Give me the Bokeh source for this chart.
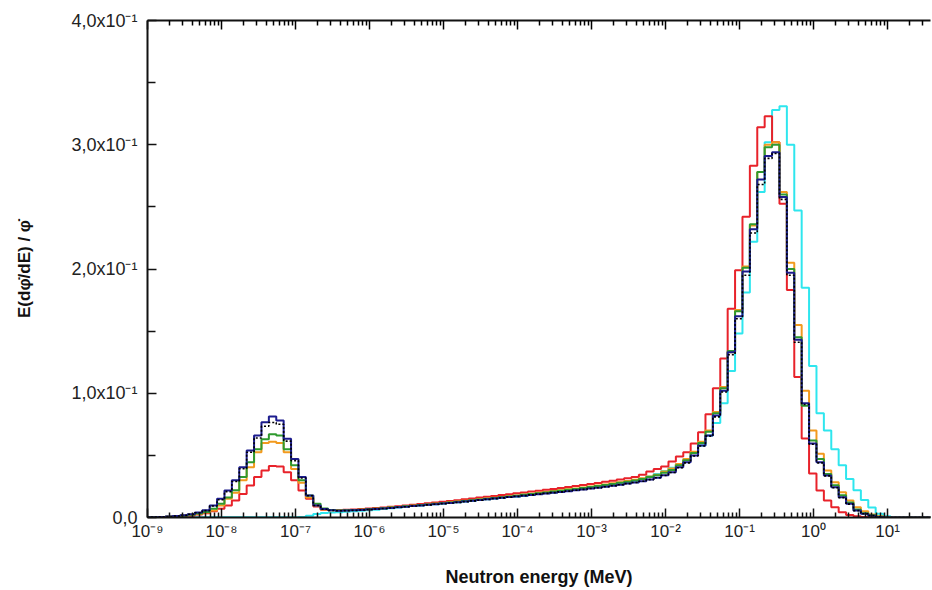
import numpy as np
from bokeh.plotting import figure
from bokeh.models import LogAxis, FixedTicker, Range1d, CustomJSTickFormatter
from bokeh.embed import file_html
from bokeh.resources import INLINE

# 10 logarithmic bins per decade (edge exponents)
bin_edges = 10.0 ** (np.arange(-91, 17) / 10 + 0.04)

navy = [
    0.0002, 0.0003, 0.0005, 0.0008, 0.0012, 0.0018, 0.0027, 0.0040, 0.0058, 0.0097,
    0.0150, 0.0217, 0.0300, 0.0405, 0.0540, 0.0660, 0.0767, 0.0813, 0.0780, 0.0633,
    0.0470, 0.0325, 0.0177, 0.0097, 0.0068, 0.0058, 0.0055, 0.0056, 0.0058, 0.0061,
    0.0064, 0.0068, 0.0072, 0.0077, 0.0082, 0.0087, 0.0092, 0.0097, 0.0102, 0.0107,
    0.0112, 0.0117, 0.0122, 0.0128, 0.0134, 0.0140, 0.0146, 0.0152, 0.0158, 0.0164,
    0.0170, 0.0176, 0.0182, 0.0188, 0.0194, 0.0200, 0.0206, 0.0212, 0.0219, 0.0226,
    0.0233, 0.0240, 0.0248, 0.0256, 0.0264, 0.0273, 0.0282, 0.0292, 0.0305, 0.0320,
    0.0340, 0.0365, 0.0405, 0.0445, 0.0500, 0.0580, 0.0660, 0.0820, 0.1020, 0.1330,
    0.1620, 0.1980, 0.2320, 0.2720, 0.2910, 0.2940, 0.2580, 0.1970, 0.1430, 0.0920,
    0.0595, 0.0445, 0.0338, 0.0244, 0.0163, 0.0110, 0.0056, 0.0030, 0.0015, 0.0005,
    0, 0, 0, 0, 0, 0, 0]

black = [
    0.0002, 0.0003, 0.0005, 0.0008, 0.0011, 0.0017, 0.0026, 0.0038, 0.0055, 0.0092,
    0.0143, 0.0208, 0.0290, 0.0392, 0.0525, 0.0640, 0.0735, 0.0765, 0.0750, 0.0615,
    0.0458, 0.0318, 0.0175, 0.0096, 0.0067, 0.0057, 0.0054, 0.0055, 0.0057, 0.0060,
    0.0064, 0.0068, 0.0072, 0.0077, 0.0082, 0.0087, 0.0092, 0.0097, 0.0102, 0.0107,
    0.0112, 0.0117, 0.0122, 0.0128, 0.0134, 0.0140, 0.0146, 0.0152, 0.0158, 0.0164,
    0.0170, 0.0176, 0.0182, 0.0188, 0.0194, 0.0200, 0.0206, 0.0212, 0.0219, 0.0226,
    0.0233, 0.0240, 0.0248, 0.0256, 0.0264, 0.0273, 0.0282, 0.0292, 0.0305, 0.0320,
    0.0338, 0.0362, 0.0400, 0.0440, 0.0495, 0.0575, 0.0655, 0.0810, 0.1010, 0.1310,
    0.1600, 0.1950, 0.2290, 0.2680, 0.2890, 0.2930, 0.2560, 0.1950, 0.1410, 0.0910,
    0.0590, 0.0440, 0.0335, 0.0240, 0.0160, 0.0108, 0.0055, 0.0030, 0.0015, 0.0005,
    0, 0, 0, 0, 0, 0, 0]

green = [
    0.0002, 0.0003, 0.0004, 0.0007, 0.0010, 0.0015, 0.0022, 0.0032, 0.0045, 0.0070,
    0.0110, 0.0160, 0.0220, 0.0325, 0.0445, 0.0550, 0.0630, 0.0670, 0.0660, 0.0550,
    0.0420, 0.0300, 0.0177, 0.0110, 0.0072, 0.0060, 0.0057, 0.0058, 0.0060, 0.0063,
    0.0066, 0.0070, 0.0075, 0.0080, 0.0085, 0.0090, 0.0095, 0.0100, 0.0105, 0.0110,
    0.0115, 0.0121, 0.0127, 0.0133, 0.0139, 0.0145, 0.0151, 0.0157, 0.0163, 0.0170,
    0.0176, 0.0183, 0.0189, 0.0196, 0.0202, 0.0209, 0.0216, 0.0223, 0.0230, 0.0237,
    0.0245, 0.0253, 0.0261, 0.0270, 0.0279, 0.0288, 0.0298, 0.0310, 0.0325, 0.0340,
    0.0360, 0.0382, 0.0420, 0.0460, 0.0520, 0.0600, 0.0690, 0.0840, 0.1040, 0.1340,
    0.1660, 0.2010, 0.2360, 0.2780, 0.2980, 0.3000, 0.2600, 0.2000, 0.1450, 0.0900,
    0.0620, 0.0470, 0.0350, 0.0260, 0.0180, 0.0120, 0.0065, 0.0035, 0.0018, 0.0007,
    0, 0, 0, 0, 0, 0, 0]

orange = [
    0.0001, 0.0002, 0.0004, 0.0006, 0.0009, 0.0014, 0.0020, 0.0029, 0.0040, 0.0056,
    0.0097, 0.0150, 0.0200, 0.0300, 0.0405, 0.0526, 0.0600, 0.0610, 0.0600, 0.0526,
    0.0390, 0.0280, 0.0160, 0.0097, 0.0064, 0.0058, 0.0057, 0.0058, 0.0060, 0.0063,
    0.0066, 0.0070, 0.0075, 0.0080, 0.0085, 0.0090, 0.0095, 0.0100, 0.0105, 0.0110,
    0.0116, 0.0122, 0.0128, 0.0134, 0.0140, 0.0146, 0.0152, 0.0158, 0.0165, 0.0172,
    0.0178, 0.0185, 0.0192, 0.0199, 0.0206, 0.0213, 0.0220, 0.0227, 0.0234, 0.0242,
    0.0250, 0.0258, 0.0266, 0.0275, 0.0284, 0.0293, 0.0303, 0.0315, 0.0330, 0.0345,
    0.0370, 0.0395, 0.0430, 0.0470, 0.0530, 0.0610, 0.0700, 0.0850, 0.1050, 0.1330,
    0.1670, 0.2020, 0.2350, 0.2780, 0.3000, 0.3020, 0.2620, 0.2050, 0.1550, 0.1020,
    0.0700, 0.0513, 0.0378, 0.0284, 0.0204, 0.0137, 0.0083, 0.0050, 0.0025, 0.0010,
    0.0003, 0, 0, 0, 0, 0, 0]

red = [
    0.0001, 0.0002, 0.0003, 0.0005, 0.0007, 0.0010, 0.0015, 0.0025, 0.0035, 0.0050,
    0.0070, 0.0097, 0.0137, 0.0190, 0.0258, 0.0325, 0.0378, 0.0415, 0.0410, 0.0365,
    0.0300, 0.0217, 0.0150, 0.0088, 0.0062, 0.0060, 0.0060, 0.0062, 0.0065, 0.0068,
    0.0072, 0.0076, 0.0081, 0.0086, 0.0091, 0.0096, 0.0102, 0.0108, 0.0114, 0.0120,
    0.0126, 0.0132, 0.0139, 0.0146, 0.0153, 0.0160, 0.0167, 0.0174, 0.0181, 0.0188,
    0.0195, 0.0202, 0.0209, 0.0216, 0.0223, 0.0230, 0.0238, 0.0246, 0.0254, 0.0262,
    0.0270, 0.0278, 0.0287, 0.0296, 0.0305, 0.0315, 0.0325, 0.0345, 0.0370, 0.0390,
    0.0410, 0.0450, 0.0490, 0.0526, 0.0595, 0.0687, 0.0830, 0.1040, 0.1280, 0.1680,
    0.1990, 0.2420, 0.2830, 0.3140, 0.3230, 0.3020, 0.2525, 0.1830, 0.1130, 0.0636,
    0.0354, 0.0217, 0.0137, 0.0083, 0.0043, 0.0020, 0.0010, 0.0004, 0, 0,
    0, 0, 0, 0, 0, 0, 0]

cyan = [
    0.0002, 0.0002, 0.0002, 0.0002, 0.0002, 0.0002, 0.0002, 0.0002, 0.0002, 0.0002,
    0.0002, 0.0002, 0.0002, 0.0002, 0.0002, 0.0002, 0.0002, 0.0002, 0.0002, 0.0002,
    0.0003, 0.0005, 0.0015, 0.0028, 0.0036, 0.0040, 0.0043, 0.0046, 0.0050, 0.0054,
    0.0058, 0.0063, 0.0068, 0.0074, 0.0080, 0.0086, 0.0092, 0.0097, 0.0102, 0.0107,
    0.0112, 0.0117, 0.0122, 0.0128, 0.0134, 0.0140, 0.0146, 0.0152, 0.0158, 0.0164,
    0.0170, 0.0176, 0.0183, 0.0190, 0.0197, 0.0204, 0.0211, 0.0218, 0.0225, 0.0233,
    0.0241, 0.0249, 0.0258, 0.0267, 0.0277, 0.0287, 0.0298, 0.0312, 0.0330, 0.0350,
    0.0375, 0.0400, 0.0430, 0.0470, 0.0520, 0.0580, 0.0660, 0.0760, 0.0920, 0.1180,
    0.1480, 0.1810, 0.2220, 0.2620, 0.3020, 0.3280, 0.3310, 0.3000, 0.2470, 0.1850,
    0.1220, 0.0840, 0.0700, 0.0550, 0.0420, 0.0310, 0.0220, 0.0140, 0.0080, 0.0030,
    0.0010, 0, 0, 0, 0, 0, 0]

x_major = [float(f"1e{k}") for k in range(-9, 2)]
x_minor = [m * float(f"1e{k}") for k in range(-10, 2) for m in range(2, 10)]
y_major = [0.0, 0.1, 0.2, 0.3, 0.4]
y_minor = [0.05, 0.15, 0.25, 0.35]

FONT = "Liberation Sans"

p = figure(width=931, height=589, x_axis_type="log",
           x_range=Range1d(1e-9, 38.1), y_range=Range1d(0, 0.4),
           output_backend="svg", toolbar_location=None,
           min_border_left=147, min_border_right=1,
           min_border_top=20, min_border_bottom=72)
p.background_fill_color = "white"
p.border_fill_color = "white"
p.outline_line_color = None
p.xgrid.visible = False
p.ygrid.visible = False

series = [
    (cyan, "#2ee6ee", 2.0, "solid"),
    (red, "#e8222a", 2.0, "solid"),
    (orange, "#f29a1e", 2.0, "solid"),
    (green, "#2f9a2f", 2.0, "solid"),
    (navy, "#1c1c8e", 2.0, "solid"),
    (black, "#000000", 1.6, "2 2"),
]
for vals, col, lw, dash in series:
    ys = list(vals) + [vals[-1]]
    p.step(list(bin_edges), ys, mode="after", line_color=col, line_width=lw,
           line_dash=dash)

x_fmt = CustomJSTickFormatter(code="""
const e = Math.round(Math.log10(tick));
const sup = {"-":"\u207b","0":"\u2070","1":"\u00b9","2":"\u00b2","3":"\u00b3","4":"\u2074","5":"\u2075","6":"\u2076","7":"\u2077","8":"\u2078","9":"\u2079"};
return "10" + String(e).split("").map(c => sup[c]).join("");
""")
y_fmt = CustomJSTickFormatter(code="""
if (Math.abs(tick) < 1e-9) { return "0,0"; }
return (tick * 10).toFixed(1).replace(".", ",") + "x10\u207b\u00b9";
""")

xa = p.xaxis[0]
xa.ticker = FixedTicker(ticks=x_major, minor_ticks=x_minor)
xa.formatter = x_fmt
xa.axis_label = "Neutron energy (MeV)"
ya = p.yaxis[0]
ya.ticker = FixedTicker(ticks=y_major, minor_ticks=y_minor)
ya.formatter = y_fmt
ya.axis_label = "E(d\u03c6\u0307/dE) / \u03c6\u0307"

for ax in (xa, ya):
    ax.axis_line_width = 2
    ax.axis_line_color = "#111111"
    ax.major_tick_line_color = "#111111"
    ax.minor_tick_line_color = "#111111"
    ax.major_tick_line_width = 1.5
    ax.minor_tick_line_width = 1.5
    ax.major_tick_out = 0
    ax.minor_tick_out = 0
    ax.major_label_text_font = FONT
    ax.major_label_text_color = "#222222"
    ax.axis_label_text_font = FONT
    ax.axis_label_text_font_style = "bold"
    ax.axis_label_text_color = "#111111"

xa.major_tick_in = 9
xa.minor_tick_in = 5
xa.major_label_text_font_size = "17px"
xa.major_label_standoff = 4
xa.axis_label_text_font_size = "18px"
xa.axis_label_standoff = 23

ya.major_tick_in = 9
ya.minor_tick_in = 8
ya.major_label_text_font_size = "18px"
ya.major_label_standoff = 10
ya.axis_label_text_font_size = "17px"
ya.axis_label_standoff = 34

top = LogAxis(ticker=FixedTicker(ticks=x_major, minor_ticks=x_minor),
              formatter=CustomJSTickFormatter(code="return '';"),
              major_label_text_font_size="2px", major_label_text_alpha=0.0,
              major_label_standoff=0,
              axis_line_width=2, axis_line_color="#111111",
              major_tick_in=9, major_tick_out=0, minor_tick_in=5, minor_tick_out=0,
              major_tick_line_width=1.5, minor_tick_line_width=1.5)
p.add_layout(top, "above")

open("out.html", "w").write(file_html(p, INLINE))
